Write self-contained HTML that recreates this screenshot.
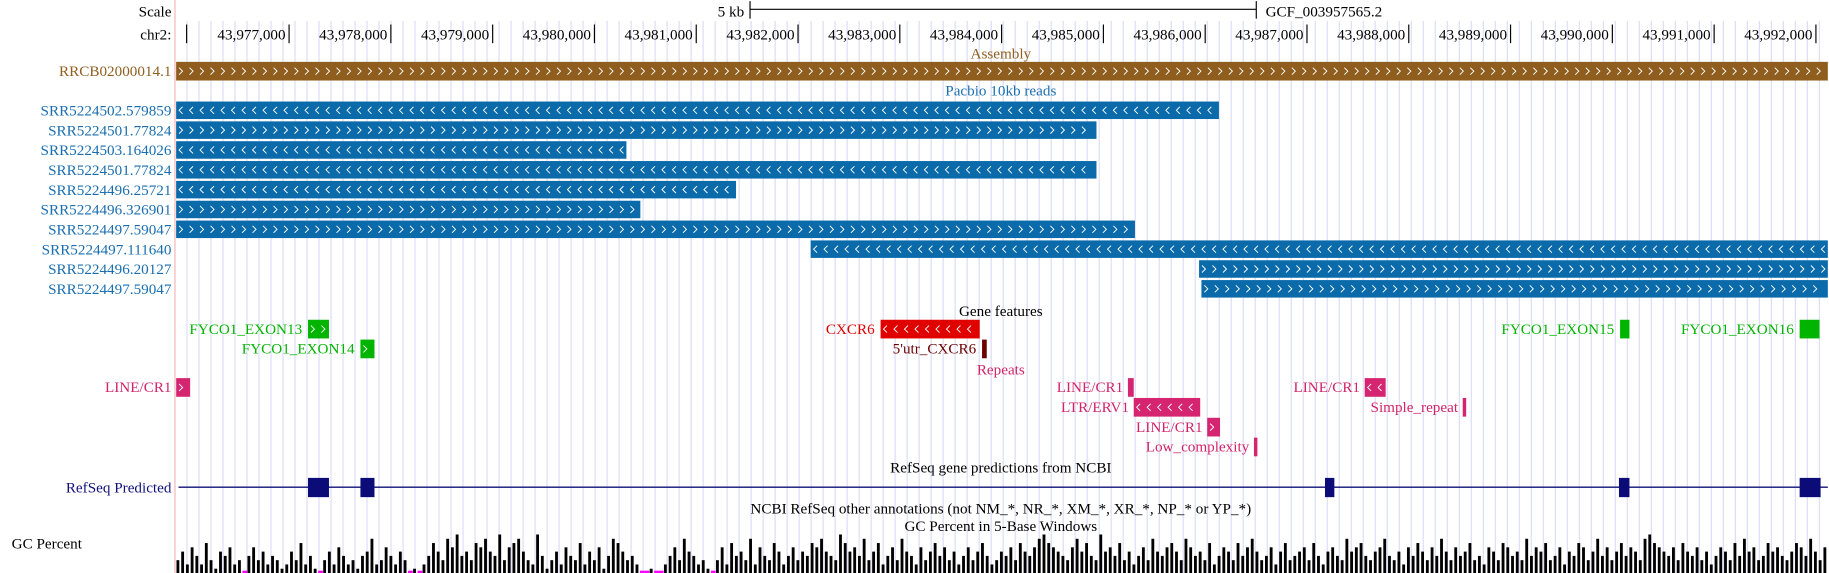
<!DOCTYPE html>
<html><head><meta charset="utf-8"><style>
html,body{margin:0;padding:0;background:#fff;overflow:hidden}
svg{display:block}
text{font-family:"Liberation Serif",serif;font-size:13px}
</style></head><body>
<svg id="chart" width="1829" height="573" viewBox="0 0 1568 491" preserveAspectRatio="none" xmlns="http://www.w3.org/2000/svg">
<g id="grid"></g>
<line x1="150" y1="0" x2="150" y2="491" stroke="#f4b4b4"/>
<text x="147" y="14" text-anchor="end">Scale</text>
<text x="147" y="34" text-anchor="end">chr2:</text>
<text x="638" y="14" text-anchor="end">5 kb</text>
<g stroke="#000"><line x1="643" y1="8" x2="1077" y2="8"/><line x1="643" y1="1" x2="643" y2="16"/><line x1="1077" y1="1" x2="1077" y2="16"/></g>
<text x="1085" y="14">GCF_003957565.2</text>
<g id="ruler"></g>
<text x="858" y="50" text-anchor="middle" fill="#8f5e1f">Assembly</text>
<text x="147" y="65" text-anchor="end" fill="#8f5e1f">RRCB02000014.1</text>
<g id="asm"></g>
<text x="858" y="82" text-anchor="middle" fill="#1a6eb0">Pacbio 10kb reads</text>
<g id="reads"></g>
<text x="858" y="271" text-anchor="middle">Gene features</text>
<g id="genes"></g>
<text x="858" y="321" text-anchor="middle" fill="#d22468">Repeats</text>
<g id="reps"></g>
<text x="858" y="405" text-anchor="middle">RefSeq gene predictions from NCBI</text>
<text x="147" y="422" text-anchor="end" fill="#10107a">RefSeq Predicted</text>
<g id="refseq"></g>
<text x="858" y="440" text-anchor="middle">NCBI RefSeq other annotations (not NM_*, NR_*, XM_*, XR_*, NP_* or YP_*)</text>
<text x="858" y="455" text-anchor="middle">GC Percent in 5-Base Windows</text>
<text x="10" y="470">GC Percent</text>
<g id="gc"></g>
</svg>
<script>
const NS="http://www.w3.org/2000/svg";
const viewStart=43975879, viewEnd=43992117;
const tickValues=[43977000,43978000,43979000,43980000,43981000,43982000,43983000,43984000,43985000,43986000,43987000,43988000,43989000,43990000,43991000,43992000];
const readNames=["SRR5224502.579859","SRR5224501.77824","SRR5224503.164026","SRR5224501.77824","SRR5224496.25721","SRR5224496.326901","SRR5224497.59047","SRR5224497.111640","SRR5224496.20127","SRR5224497.59047"];
const readStarts=[43975879,43975879,43975879,43975879,43975879,43975879,43975879,43982124,43985940,43985963];
const readEnds=[43986135,43984932,43980314,43984932,43981391,43980451,43985310,43992117,43992117,43992117];
const readStrands=["-","+","-","-","-","+","+","-","+","+"];
const geneNames=["FYCO1_EXON13","FYCO1_EXON14","CXCR6","5'utr_CXCR6","FYCO1_EXON15","FYCO1_EXON16"];
const geneStarts=[43977186,43977701,43982811,43983808,43990076,43991840];
const geneEnds=[43977392,43977839,43983785,43983854,43990168,43992035];
const geneRows=[0,1,0,1,0,0];
const geneStrands=["+","+","-","","",""];
const geneColors=["#00b400","#00b400","#e00000","#6a0000","#00b400","#00b400"];
const repNames=["LINE/CR1","LINE/CR1","LINE/CR1","LTR/ERV1","Simple_repeat","LINE/CR1","Low_complexity"];
const repStarts=[43975891,43985241,43987567,43985298,43988530,43986020,43986479];
const repEnds=[43976028,43985298,43987773,43985951,43988564,43986146,43986513];
const repRows=[0,0,0,1,1,2,3];
const repStrands=["+","+","-","-","","+",""];
const exonStarts=[43977186,43977701,43987177,43990065,43991840];
const exonEnds=[43977392,43977839,43987269,43990168,43992046];
const gcValues=[3,5,2,6,4,2,7,3,1,5,4,6,2,3,0,4,6,3,5,2,4,3,1,2,5,3,7,2,4,1,0,3,5,2,6,4,2,3,1,4,5,8,2,3,6,4,2,5,3,0,1,0,2,4,7,5,3,8,6,9,4,5,3,7,6,8,5,4,9,3,6,7,8,5,3,2,9,4,1,3,5,2,6,4,3,7,2,5,3,6,1,4,8,7,5,3,4,2,0,0,1,0,0,2,4,6,3,8,5,4,2,3,1,0,3,6,2,7,4,5,3,8,2,6,4,3,7,5,2,4,6,3,5,4,7,6,8,5,4,3,9,7,5,6,4,8,3,5,7,2,4,6,3,8,5,4,2,6,3,5,7,4,6,3,5,2,4,6,3,5,7,4,2,3,5,4,6,3,7,5,4,6,8,9,7,6,5,4,3,6,8,5,7,4,3,9,5,6,4,7,3,5,2,4,6,3,8,5,4,6,7,5,3,8,6,4,5,3,7,2,4,6,5,3,7,4,6,8,5,3,4,6,2,5,7,3,4,5,6,3,7,4,2,5,6,4,3,8,5,6,7,4,3,5,6,8,4,3,5,2,6,4,7,5,3,6,4,8,5,3,6,4,5,7,3,4,2,6,5,3,7,6,4,5,3,8,4,6,5,7,3,4,6,2,5,4,7,6,3,5,8,4,6,3,5,7,4,6,5,3,8,9,7,6,5,4,6,3,7,5,4,6,3,5,2,4,6,5,3,7,4,8,5,6,3,4,7,5,6,4,3,5,7,6,4,8,5,3,6];

const X0=150,X1=1567;
function xs(bp){return X0+(bp-viewStart)/(viewEnd-viewStart)*(X1-X0);}
function mk(tag,attrs,parent){const e=document.createElementNS(NS,tag);for(const k in attrs)e.setAttribute(k,attrs[k]);parent.appendChild(e);return e;}
function chevrons(g,x1,x2,y,h,dir){
  let d="";const cy=y+h/2;
  for(let x=x1+4;x<x2-3;x+=9){
    if(dir==="+")d+="M"+(x-1.5)+" "+(cy-3)+"L"+(x+1.5)+" "+cy+"L"+(x-1.5)+" "+(cy+3);
    else if(dir==="-")d+="M"+(x+1.5)+" "+(cy-3)+"L"+(x-1.5)+" "+cy+"L"+(x+1.5)+" "+(cy+3);
  }
  if(d){const p=mk("path",{d:d,stroke:"#fff","stroke-width":"0.8",fill:"none"},g);
    
    }
}
const grid=document.getElementById("grid");
for(let x=160.3;x<X1;x+=10.29){
  const l=mk("line",{x1:x,y1:18,x2:x,y2:491,stroke:"#dcdcf6","stroke-width":"1"},grid);
  
  
}
const ruler=document.getElementById("ruler");
const t0=mk("line",{x1:160,y1:21,x2:160,y2:37,stroke:"#000"},ruler);


tickValues.forEach(v=>{
  const x=xs(v);
  const l=mk("line",{x1:x,y1:21,x2:x,y2:37,stroke:"#000"},ruler);
  
  
  const t=mk("text",{x:x-3,y:34,"text-anchor":"end"},ruler);
  t.textContent=v.toLocaleString("en-US");
  
  
});
const asm=document.getElementById("asm");
const ab=mk("rect",{x:X0+1,y:53,width:X1-X0-1,height:16,fill:"#8f5e1f"},asm);


chevrons(asm,X0+1,X1,53,16,"+");
const reads=document.getElementById("reads");
readNames.forEach((n,i)=>{
  const y=87+i*17;
  const t=mk("text",{x:147,y:y+12,"text-anchor":"end",fill:"#1a6eb0"},reads);
  t.textContent=n;
  
  
  const a=Math.max(xs(readStarts[i]),X0+1),b=xs(readEnds[i]);
  const r=mk("rect",{x:a,y:y,width:b-a,height:15,fill:"#0a6aaa"},reads);
  
  
  chevrons(reads,a,b,y,15,readStrands[i]);
});
const genes=document.getElementById("genes");
geneNames.forEach((n,i)=>{
  const y=274+geneRows[i]*17;const a=xs(geneStarts[i]),b=xs(geneEnds[i]);
  const t=mk("text",{x:a-5,y:y+12,"text-anchor":"end",fill:geneColors[i]},genes);
  t.textContent=n;
  
  
  const r=mk("rect",{x:a,y:y,width:b-a,height:16,fill:geneColors[i]},genes);
  
  
  chevrons(genes,a,b,y,16,geneStrands[i]);
});
const reps=document.getElementById("reps");
repNames.forEach((n,i)=>{
  const y=324+repRows[i]*17;const a=xs(repStarts[i]),b=xs(repEnds[i]);
  const t=mk("text",{x:a-4,y:y+12,"text-anchor":"end",fill:"#d22468"},reps);
  t.textContent=n;
  
  
  const r=mk("rect",{x:a,y:y,width:b-a,height:16,fill:"#d52470"},reps);
  
  
  chevrons(reps,a,b,y,16,repStrands[i]);
});
const rs=document.getElementById("refseq");
const rl=mk("line",{x1:X0+3,y1:417.5,x2:X1,y2:417.5,stroke:"#10107a","stroke-width":"1.2"},rs);


exonStarts.forEach((s,i)=>{
  const a=xs(s),b=xs(exonEnds[i]);
  const r=mk("rect",{x:a,y:409.5,width:b-a,height:16.5,fill:"#0c0c78"},rs);
  
  
});
const gc=document.getElementById("gc");
const bw=(X1-X0-1)/gcValues.length;
gcValues.forEach((v,i)=>{
  const x=X0+1+i*bw;
  if(v===0){
    const m=mk("rect",{x:x,y:489,width:bw,height:2,fill:"#ff00ff"},gc);
    
    
    return;
  }
  const h=v/9*33;
  const r=mk("rect",{x:x+0.3,y:491-h,width:bw*0.6,height:h,fill:"#000"},gc);
  
  
});
</script>
</body></html>
